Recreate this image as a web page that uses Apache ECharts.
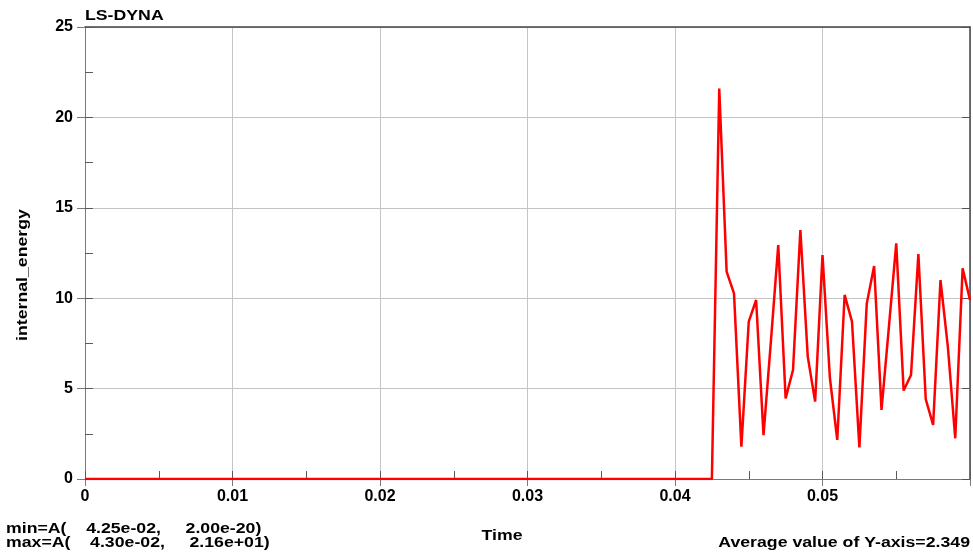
<!DOCTYPE html>
<html>
<head>
<meta charset="utf-8">
<script src="https://cdn.jsdelivr.net/npm/echarts@6/dist/echarts.min.js"></script>
<style>
html,body{margin:0;padding:0;background:#fff;}
#chart{width:973px;height:557px;}
</style>
</head>
<body>
<div id="chart"></div>
<script>
// ---- data ----
const times = [0, 0.0425,
  0.043, 0.0435, 0.044, 0.0445, 0.045, 0.0455, 0.046, 0.0465, 0.047, 0.0475,
  0.048, 0.0485, 0.049, 0.0495, 0.05, 0.0505, 0.051, 0.0515, 0.052, 0.0525,
  0.053, 0.0535, 0.054, 0.0545, 0.055, 0.0555, 0.056, 0.0565, 0.057, 0.0575,
  0.058, 0.0585, 0.059, 0.0595, 0.06];
const energy = [0, 0,
  21.6, 11.47, 10.27, 1.79, 8.7, 9.9, 2.43, 7.6, 12.94, 4.46,
  6.03, 13.77, 6.77, 4.28, 12.39, 5.6, 2.16, 10.18, 8.7, 1.75,
  9.7, 11.78, 3.82, 8.4, 13.03, 4.89, 5.75, 12.44, 4.41, 2.99,
  11.0, 7.3, 2.25, 11.65, 9.9];
const xTickLabels = ['0', '0.01', '0.02', '0.03', '0.04', '0.05'];
const titleText = 'LS-DYNA';
const yName = 'internal_energy';
const xName = 'Time';
const minText = 'min=A(    4.25e-02,     2.00e-20)';
const maxText = 'max=A(    4.30e-02,     2.16e+01)';
const avgText = 'Average value of Y-axis=2.349';

const FONT = '"Liberation Sans", Arial, sans-serif';
const SX = 1.18;

const chart = echarts.init(document.getElementById('chart'), null, {renderer: 'canvas'});

const pairs = times.map((t, i) => [t, energy[i]]);

const option = {
  animation: false,
  backgroundColor: '#ffffff',
  grid: {left: 85, right: 3, top: 27, bottom: 78, containLabel: false},
  xAxis: [
    {
      type: 'value', min: 0, max: 0.06, interval: 0.01, position: 'bottom',
      axisLine: {show: true, onZero: false, lineStyle: {color: '#7a7a7a', width: 1}},
      axisTick: {show: true, inside: false, length: 7, lineStyle: {color: '#7a7a7a'}},
      axisLabel: {
        show: true, margin: 10, color: '#000', fontWeight: 'bold', fontSize: 16, fontFamily: FONT,
        formatter: function (v) {
          const idx = Math.round(v / 0.01);
          return idx < xTickLabels.length ? xTickLabels[idx] : '';
        }
      },
      splitLine: {show: true, lineStyle: {color: '#c4c4c4', width: 1}}
    },
    {
      type: 'value', min: 0, max: 0.06, interval: 0.005, position: 'bottom',
      axisLine: {show: false},
      axisTick: {show: true, inside: true, length: 8, lineStyle: {color: '#5a5a5a'}},
      axisLabel: {show: false},
      splitLine: {show: false}
    },
    {
      type: 'value', min: 0, max: 0.06, interval: 0.01, position: 'top',
      axisLine: {show: true, onZero: false, lineStyle: {color: '#444', width: 1.5}},
      axisTick: {show: false},
      axisLabel: {show: false},
      splitLine: {show: false}
    }
  ],
  yAxis: [
    {
      type: 'value', min: 0, max: 25, interval: 5, position: 'left',
      axisLine: {show: true, onZero: false, lineStyle: {color: '#7a7a7a', width: 1}},
      axisTick: {show: true, inside: false, length: 8, lineStyle: {color: '#7a7a7a'}},
      axisLabel: {show: true, margin: 12, color: '#000', fontWeight: 'bold', fontSize: 16, fontFamily: FONT},
      splitLine: {show: true, lineStyle: {color: '#c4c4c4', width: 1}}
    },
    {
      type: 'value', min: 0, max: 25, interval: 2.5, position: 'left',
      axisLine: {show: false},
      axisTick: {show: true, inside: true, length: 8, lineStyle: {color: '#5a5a5a'}},
      axisLabel: {show: false},
      splitLine: {show: false}
    },
    {
      type: 'value', min: 0, max: 25, interval: 5, position: 'right',
      axisLine: {show: true, onZero: false, lineStyle: {color: '#444', width: 1.5}},
      axisTick: {show: true, inside: true, length: 8, lineStyle: {color: '#555'}},
      axisLabel: {show: false},
      splitLine: {show: false}
    }
  ],
  series: [{
    type: 'line',
    xAxisIndex: 0, yAxisIndex: 0,
    data: pairs,
    showSymbol: false,
    symbol: 'none',
    smooth: false,
    lineStyle: {color: '#ff0000', width: 2.5},
    z: 5
  }],
  graphic: [
    {type: 'text', x: 85, y: 16, scaleX: SX, style: {text: titleText, font: 'bold 15px ' + FONT, fill: '#000', textAlign: 'left', textVerticalAlign: 'middle'}},
    {type: 'text', x: 23, y: 275, rotation: Math.PI / 2, scaleX: SX, style: {text: yName, font: 'bold 15px ' + FONT, fill: '#000', textAlign: 'center', textVerticalAlign: 'middle'}},
    {type: 'text', x: 502, y: 535.5, scaleX: SX, style: {text: xName, font: 'bold 15px ' + FONT, fill: '#000', textAlign: 'center', textVerticalAlign: 'middle'}},
    {type: 'text', x: 6, y: 528.5, scaleX: SX, style: {text: minText, font: 'bold 15px ' + FONT, fill: '#000', textAlign: 'left', textVerticalAlign: 'middle'}},
    {type: 'text', x: 6, y: 543, scaleX: SX, style: {text: maxText, font: 'bold 15px ' + FONT, fill: '#000', textAlign: 'left', textVerticalAlign: 'middle'}},
    {type: 'text', x: 970, y: 543, scaleX: SX, style: {text: avgText, font: 'bold 15px ' + FONT, fill: '#000', textAlign: 'right', textVerticalAlign: 'middle'}}
  ]
};
chart.setOption(option);
</script>
</body>
</html>
